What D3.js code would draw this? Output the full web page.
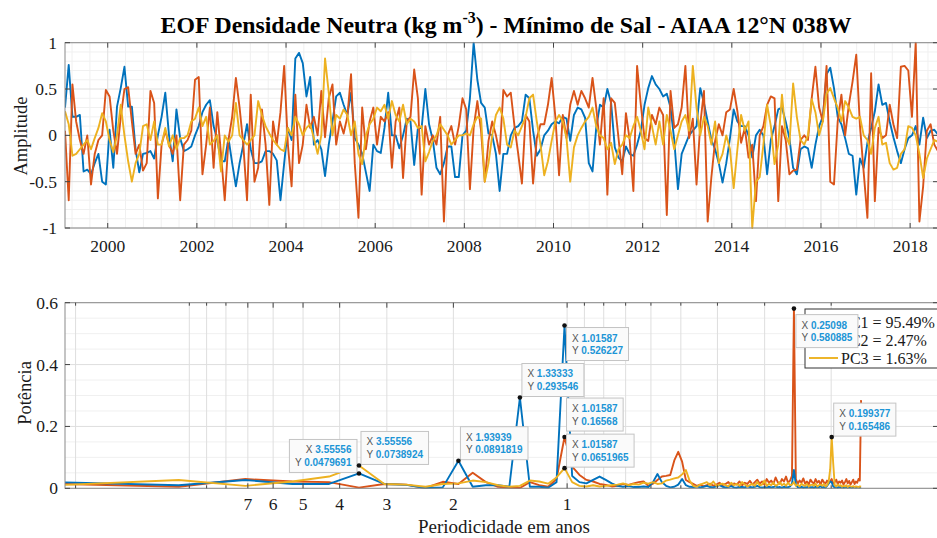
<!DOCTYPE html>
<html><head><meta charset="utf-8">
<script src="https://cdn.jsdelivr.net/npm/d3@7"></script>
<style>body{margin:0;background:#fff}svg{display:block}</style>
</head><body><svg id="c" width="937" height="538"></svg>
<script>
// ---------------- DATA ----------------
const startYear = 1999; // monthly series starting January 1999
const pc1 = [
 0.30, 0.76, 0.20, 0.20, 0.22,-0.39,-0.37,-0.42,-0.30,-0.20,-0.50,-0.53,
 0.06,-0.35, 0.31, 0.51, 0.74, 0.31, 0.31,-0.15,-0.40,-0.20,-0.19,-0.17,
-0.25, 0.00, 0.20, 0.46, 0.00,-0.28, 0.28,-0.03,-0.17,-0.15,-0.12, 0.00,
 0.10, 0.25, 0.33, 0.38, 0.10,-0.05,-0.28,-0.28,-0.03,-0.30,-0.55,-0.30,
-0.10, 0.12,-0.15,-0.30,-0.30,-0.28,-0.17,-0.17,-0.20,-0.27,-0.70,-0.30,
 0.08,-0.05, 0.83, 0.89, 0.78, 0.42, 0.63,-0.10,-0.05,-0.15,-0.44,-0.10,
 0.15, 0.42, 0.46, 0.33, 0.22, 0.46,-0.03,-0.10,-0.20,-0.40,-0.60,-0.10,
-0.17,-0.19, 0.08, 0.46, 0.00, 0.00,-0.14, 0.00, 0.18, 0.15,-0.32, 0.08,
 0.08, 0.50, 0.12,-0.05,-0.35,-0.42,-0.30,-0.12,-0.12,-0.45,-0.45, 0.00,
 0.05, 0.40, 1.00, 0.60, 0.35, 0.30, 0.02, 0.00,-0.20,-0.60,-0.20,-0.20,
 0.00, 0.08, 0.10, 0.15, 0.44, 0.40, 0.05,-0.22,-0.15, 0.00, 0.05, 0.12,
 0.15, 0.13, 0.20, 0.18,-0.06, 0.22, 0.30, 0.28, 0.19,-0.30,-0.39, 0.08,
 0.33, 0.30, 0.50, 0.35,-0.13,-0.24,-0.28,-0.12,-0.20,-0.22,-0.10, 0.05,
 0.33, 0.51, 0.64, 0.55, 0.50, 0.42, 0.45, 0.30,-0.05,-0.58,-0.20,-0.10,
 0.00, 0.05, 0.10, 0.51, 0.35, 0.15,-0.05,-0.15,-0.30,-0.51,-0.30,-0.03,
 0.28, 0.15, 0.10, 0.10, 0.00,-0.24, 0.00, 0.06, 0.00,-0.42,-0.05, 0.10,
 0.28, 0.30, 0.15,-0.03,-0.35,-0.42,-0.15,-0.12,-0.14,-0.35,-0.10, 0.10,
 0.20, 0.66, 0.73, 0.51, 0.20, 0.12,-0.03,-0.20,-0.22,-0.64,-0.25,-0.35,
-0.08, 0.08, 0.26, 0.55, 0.33, 0.35, 0.15,-0.02,-0.17,-0.30,-0.15,-0.03,
 0.00, 0.10,-0.10, 0.19,-0.03, 0.05, 0.06, 0.01
];
const pc2 = [
 0.05,-0.70, 0.55, 0.15,-0.05,-0.20, 0.00,-0.53,-0.20,-0.05, 0.00, 0.49,
 0.42, 0.05,-0.20, 0.20, 0.50, 0.52, 0.15,-0.20,-0.10,-0.38,-0.30, 0.48,
 0.35,-0.68,-0.10, 0.05,-0.10,-0.20, 0.00,-0.70,-0.10,-0.05, 0.05, 0.60,
 0.63,-0.42,-0.10, 0.30,-0.35, 0.25,-0.20,-0.70,-0.05, 0.20, 0.62, 0.30,
-0.10,-0.70, 0.44,-0.50,-0.35, 0.28,-0.10,-0.75, 0.15,-0.10, 0.25, 0.75,
-0.10,-0.55, 0.44,-0.30,-0.10, 0.33, 0.08, 0.20, 0.00, 0.48,-0.02, 0.40,
 0.55,-0.10, 0.15, 0.02, 0.20, 0.66,-0.30,-0.89, 0.30,-0.15, 0.15, 0.30,
-0.10, 0.20, 0.15, 0.25,-0.35, 0.15, 0.30,-0.46, 0.15, 0.20, 0.71, 0.40,
-0.64, 0.10,-0.10, 0.00,-0.10, 0.20,-0.93, 0.00, 0.10,-0.10, 0.10, 0.40,
 0.28,-0.58, 0.08, 0.37, 0.05,-0.50,-0.06, 0.15, 0.00,-0.20, 0.49, 0.42,
 0.46, 0.10,-0.20,-0.52, 0.22, 0.15,-0.52,-0.03, 0.12, 0.12, 0.33, 0.62,
 0.20,-0.43, 0.22,-0.03, 0.33, 0.48, 0.33, 0.48, 0.40, 0.30, 0.62, 0.30,
-0.10, 0.40,-0.64, 0.40, 0.35,-0.03,-0.42, 0.24,-0.05,-0.60, 0.75, 0.33,
-0.03,-0.06, 0.22, 0.12, 0.30, 0.22,-0.86, 0.48, 0.08, 0.12, 0.30, 0.75,
-0.03, 0.18,-0.53, 0.12, 0.48,-0.93,-0.45,-0.06, 0.12, 0.00, 0.25, 0.28,
 0.50, 0.26,-0.08, 0.08,-0.24,-0.10,-0.71, 0.00, 0.10, 0.33, 0.42, 0.40,
-0.71, 0.10,-0.05,-0.42,-0.38,-0.37,-0.05, 0.00,-0.05, 0.40, 0.74, 0.30,
 0.15, 0.75,-0.50,-0.53, 0.15, 0.44, 0.00, 0.33, 0.58, 0.87, 0.10,-0.40,
-0.89, 0.67,-0.71, 0.08,-0.03, 0.00, 0.33, 0.12,-0.03, 0.74, 0.75, 0.70,
 0.20, 1.00,-0.93,-0.55, 0.05, 0.12,-0.10,-0.17
];
const pc3 = [
 0.26, 0.12,-0.22,-0.20,-0.15,-0.10,-0.05,-0.15,-0.03, 0.08, 0.24, 0.15,
-0.05,-0.18, 0.00, 0.33, 0.00,-0.28,-0.50,-0.30,-0.20, 0.10, 0.12,-0.05,
 0.15,-0.10,-0.10, 0.08,-0.12, 0.00,-0.15,-0.03,-0.03, 0.00, 0.15, 0.18,
 0.30, 0.10, 0.20,-0.10,-0.06, 0.00,-0.39, 0.00,-0.07, 0.00, 0.35, 0.00,
-0.05,-0.10,-0.05, 0.00, 0.37, 0.22, 0.10, 0.02,-0.05,-0.10,-0.15,-0.17,
 0.08, 0.00, 0.20, 0.12, 0.00, 0.08, 0.12,-0.03,-0.20, 0.00, 0.83, 0.46,
 0.00, 0.22, 0.18, 0.28, 0.22, 0.00, 0.15,-0.20,-0.31, 0.00, 0.12, 0.18,
 0.30, 0.26, 0.33, 0.18, 0.37, 0.22, 0.15, 0.33, 0.12, 0.18, 0.15, 0.08,
 0.10,-0.28,-0.18,-0.06, 0.00, 0.12, 0.06, 0.00,-0.10,-0.05, 0.00, 0.00,
 0.02, 0.00, 0.12, 0.20, 0.18,-0.50,-0.30, 0.00, 0.22, 0.30, 0.18,-0.10,
-0.13, 0.05, 0.00, 0.10, 0.20, 0.40, 0.44, 0.15,-0.10,-0.43,-0.28,-0.06,
 0.15, 0.22, 0.15,-0.03,-0.50,-0.13, 0.00, 0.08, 0.15, 0.20, 0.30, 0.10,
 0.00,-0.03,-0.15,-0.08,-0.31,-0.15,-0.10, 0.00,-0.03, 0.10, 0.20, 0.05,
-0.15, 0.30, 0.10,-0.10, 0.15,-0.10, 0.22, 0.05,-0.15, 0.00, 0.15, 0.22,
 0.05, 0.75, 0.30, 0.00, 0.20, 0.10,-0.10, 0.15,-0.30,-0.20, 0.00,-0.15,
-0.57,-0.15, 0.22, 0.05, 0.15,-1.00,-0.50,-0.45,-0.10, 0.33, 0.10,-0.31,
-0.10, 0.44, 0.00,-0.10, 0.56, 0.20,-0.05,-0.10, 0.00, 0.39, 0.25, 0.00,
 0.15, 0.45, 0.51, 0.40, 0.30, 0.15, 0.37, 0.30, 0.20, 0.18, 0.20, 0.00,
-0.05,-0.20, 0.08, 0.20,-0.10,-0.08,-0.30,-0.37,-0.35,-0.20,-0.15, 0.10,
 0.08, 0.00,-0.20,-0.46,-0.25,-0.15,-0.05,-0.07
];
const yearTicks = [2000,2002,2004,2006,2008,2010,2012,2014,2016,2018];
const ampTicks = [-1,-0.5,0,0.5,1];

const fftLength = 256; // spectral estimates k = 1..128, period = fftLength/(12k) years
const spec1 = [
 0.019,0.010,0.027,0.014,0.014,0.0479691,0.014,0.011,0.001,0.003,
 0.0891819,0.005,0.010,0.010,0.005,0.293546,0.005,0.005,0.002,0.020,
 0.526227,0.040,0.020,0.016,0.027,0.038,0.027,0.016,0.008,0.005,
 0.007,0.004,0.004,0.006,0.004,0.020,0.046,0.020,0.008,0.003,
 0.005,0.012,0.030,0.010,0.005,0.004,0.006,0.003,0.005,0.008,
 0.004,0.003,0.006,0.010,0.005,0.003,0.004,0.007,0.003,0.002,
 0.005,0.004,0.003,0.006,0.004,0.003,0.005,0.008,0.004,0.002,
 0.004,0.003,0.005,0.003,0.004,0.006,0.003,0.004,0.002,0.005,
 0.004,0.003,0.006,0.015,0.059,0.012,0.004,0.003,0.005,0.002,
 0.004,0.003,0.006,0.003,0.004,0.002,0.005,0.003,0.004,0.006,
 0.003,0.004,0.002,0.008,0.015,0.022,0.020,0.006,0.003,0.004,
 0.002,0.005,0.003,0.004,0.002,0.003,0.005,0.002,0.004,0.003,
 0.002,0.004,0.003,0.002,0.004,0.003,0.002,0.003
];
const spec2 = [
 0.014,0.005,0.030,0.022,0.020,0.002,0.014,0.012,0.001,0.021,
 0.014,0.050,0.020,0.005,0.002,0.001,0.020,0.010,0.005,0.030,
 0.16568,0.070,0.043,0.027,0.022,0.014,0.011,0.006,0.008,0.014,
 0.011,0.016,0.020,0.022,0.008,0.015,0.027,0.038,0.040,0.043,
 0.090,0.118,0.086,0.027,0.020,0.014,0.008,0.012,0.006,0.010,
 0.015,0.008,0.012,0.018,0.010,0.014,0.020,0.008,0.016,0.012,
 0.022,0.010,0.018,0.014,0.024,0.012,0.020,0.028,0.015,0.022,
 0.012,0.030,0.018,0.025,0.014,0.035,0.020,0.015,0.030,0.022,
 0.038,0.018,0.025,0.040,0.580885,0.030,0.015,0.025,0.018,0.032,
 0.015,0.022,0.012,0.028,0.020,0.015,0.030,0.018,0.024,0.012,
 0.028,0.020,0.015,0.025,0.018,0.022,0.030,0.015,0.020,0.028,
 0.014,0.022,0.018,0.025,0.012,0.020,0.030,0.016,0.024,0.012,
 0.020,0.028,0.014,0.022,0.018,0.030,0.025,0.285
];
const spec3 = [
 0.011,0.027,0.008,0.022,0.038,0.0738924,0.014,0.012,0.005,0.014,
 0.016,0.025,0.020,0.010,0.005,0.008,0.025,0.022,0.015,0.035,
 0.0651965,0.020,0.008,0.006,0.010,0.006,0.008,0.010,0.012,0.016,
 0.010,0.014,0.012,0.018,0.015,0.020,0.014,0.016,0.025,0.028,
 0.032,0.035,0.045,0.059,0.025,0.008,0.005,0.012,0.016,0.020,
 0.010,0.022,0.008,0.012,0.015,0.010,0.006,0.018,0.010,0.014,
 0.008,0.020,0.012,0.006,0.010,0.014,0.008,0.020,0.010,0.012,
 0.025,0.008,0.015,0.010,0.018,0.008,0.012,0.020,0.010,0.015,
 0.008,0.018,0.010,0.012,0.020,0.008,0.012,0.006,0.015,0.010,
 0.008,0.014,0.006,0.010,0.012,0.008,0.015,0.006,0.010,0.012,
 0.008,0.014,0.006,0.010,0.020,0.060,0.165486,0.080,0.010,0.006,
 0.012,0.008,0.010,0.005,0.008,0.006,0.010,0.004,0.008,0.006,
 0.005,0.007,0.004,0.006,0.005,0.004,0.006,0.005
];
const periodTicks = [7,6,5,4,3,2,1];
const periodMinorTicks = [20,10,9,8,0.9,0.8,0.7,0.6,0.5,0.4,0.3,0.2];
const powerTicks = [0,0.2,0.4,0.6];
const legendLabels = ["PC1 = 95.49%","PC2 = 2.47%","PC3 = 1.63%"];
// data tips: which series and which spectral index k
const tipPoints = [
 {s:0,k:6},{s:2,k:6},{s:0,k:11},{s:0,k:16},{s:0,k:21},{s:1,k:21},{s:2,k:21},{s:1,k:85},{s:2,k:107}
];
// ---------------- STYLE / LAYOUT ----------------
const colors = ["#0072BD","#D95319","#EDB120"];
const tipPlacement = ["ul","ur","ur","ur","lr","ur","ur","lr","ur"];
const tipDy = [0,0,0,0,0,-5,0,4,0];
const serif = "'Liberation Serif','Times New Roman',serif";
const sans = "'Liberation Sans',Arial,sans-serif";
const svg = d3.select("#c");
const L = 65, R = 938;
const top1 = 42.7, bot1 = 228;
const top2 = 302.7, bot2 = 488.3;

const times = pc1.map((_, i) => startYear + (i + 0.5) / 12);
const series = [pc1, pc2, pc3];
const specs = [spec1, spec2, spec3];
const periods = spec1.map((_, j) => fftLength / (12 * (j + 1)));

// ---- scales
const x1 = d3.scaleLinear().domain([times[0], times[times.length - 1]]).range([L, R]);
const y1 = d3.scaleLinear().domain([-1, 1]).range([bot1, top1]);
const x2 = d3.scaleLog().domain([periods[0], 0.1043]).range([L, R]);
const y2 = d3.scaleLinear().domain([0, 0.6]).range([bot2, top2]);

const gridMajor = "#dedede", gridMinor = "#f0f0f0", axisCol = "#8a8a8a", txtCol = "#1a1a1a";

// ---------- TOP AXES ----------
const g1 = svg.append("g");
const minorYears = d3.range(1999.2, 2018.7, 0.4).filter(v => Math.abs(v / 2 - Math.round(v / 2)) > 0.01);
g1.selectAll(".mgx").data(minorYears.filter(v => x1(v) > L && x1(v) < R)).enter().append("line")
  .attr("x1", d => x1(d)).attr("x2", d => x1(d)).attr("y1", top1).attr("y2", bot1)
  .attr("stroke", gridMinor).attr("stroke-width", 1);
const minorAmp = d3.range(-0.9, 1.0, 0.1).filter(v => Math.abs(v * 2 - Math.round(v * 2)) > 0.01);
g1.selectAll(".mgy").data(minorAmp).enter().append("line")
  .attr("x1", L).attr("x2", R).attr("y1", d => y1(d)).attr("y2", d => y1(d))
  .attr("stroke", gridMinor).attr("stroke-width", 1);
g1.selectAll(".gx").data(yearTicks).enter().append("line")
  .attr("x1", d => x1(d)).attr("x2", d => x1(d)).attr("y1", top1).attr("y2", bot1)
  .attr("stroke", gridMajor).attr("stroke-width", 1);
g1.selectAll(".gy").data(ampTicks).enter().append("line")
  .attr("x1", L).attr("x2", R).attr("y1", d => y1(d)).attr("y2", d => y1(d))
  .attr("stroke", gridMajor).attr("stroke-width", 1);

svg.append("clipPath").attr("id", "clip1").append("rect")
  .attr("x", L).attr("y", top1 - 1).attr("width", R - L).attr("height", bot1 - top1 + 2);
const line1 = d3.line().x((d, i) => x1(times[i])).y(d => y1(d));
series.forEach((s, si) => {
  g1.append("path").datum(s).attr("d", line1).attr("fill", "none")
    .attr("stroke", colors[si]).attr("stroke-width", 1.9).attr("stroke-linejoin", "round")
    .attr("clip-path", "url(#clip1)");
});
g1.append("rect").attr("x", L).attr("y", top1).attr("width", R - L).attr("height", bot1 - top1)
  .attr("fill", "none").attr("stroke", axisCol).attr("stroke-width", 1);
const tl = 5;
yearTicks.forEach(v => {
  const x = x1(v);
  g1.append("line").attr("x1", x).attr("x2", x).attr("y1", bot1).attr("y2", bot1 - tl).attr("stroke", "#444");
  g1.append("line").attr("x1", x).attr("x2", x).attr("y1", top1).attr("y2", top1 + tl).attr("stroke", "#444");
  g1.append("text").attr("x", x).attr("y", 252).attr("text-anchor", "middle")
    .attr("font-family", serif).attr("font-size", 17.5).attr("fill", txtCol).text(v);
});
ampTicks.forEach(v => {
  const y = y1(v);
  g1.append("line").attr("x1", L).attr("x2", L + tl).attr("y1", y).attr("y2", y).attr("stroke", "#444");
  g1.append("line").attr("x1", R).attr("x2", R - tl).attr("y1", y).attr("y2", y).attr("stroke", "#444");
  g1.append("text").attr("x", 57).attr("y", y + 6).attr("text-anchor", "end")
    .attr("font-family", serif).attr("font-size", 17.5).attr("fill", txtCol).text(String(v));
});
g1.append("text").attr("transform", "translate(27,136) rotate(-90)").attr("text-anchor", "middle")
  .attr("font-family", serif).attr("font-size", 18.5).attr("fill", txtCol).text("Amplitude");

// title
const title = svg.append("text").attr("x", 506).attr("y", 33).attr("text-anchor", "middle")
  .attr("font-family", serif).attr("font-size", 23.8).attr("font-weight", "bold").attr("fill", "#000");
title.append("tspan").text("EOF Densidade Neutra (kg m");
title.append("tspan").attr("dy", -10).attr("font-size", 16).text("-3");
title.append("tspan").attr("dy", 10).text(") - Mínimo de Sal - AIAA 12°N 038W");

// ---------- BOTTOM AXES ----------
const g2 = svg.append("g");
const minorPow = d3.range(0.05, 0.6, 0.05).filter(v => Math.abs(v * 5 - Math.round(v * 5)) > 0.01);
g2.selectAll(".mpy").data(minorPow).enter().append("line")
  .attr("x1", L).attr("x2", R).attr("y1", d => y2(d)).attr("y2", d => y2(d))
  .attr("stroke", gridMinor).attr("stroke-width", 1);
g2.selectAll(".gpx").data(periodTicks.concat(periodMinorTicks)).enter().append("line")
  .attr("x1", d => x2(d)).attr("x2", d => x2(d)).attr("y1", top2).attr("y2", bot2)
  .attr("stroke", gridMajor).attr("stroke-width", 1);
g2.selectAll(".gpy").data(powerTicks).enter().append("line")
  .attr("x1", L).attr("x2", R).attr("y1", d => y2(d)).attr("y2", d => y2(d))
  .attr("stroke", gridMajor).attr("stroke-width", 1);

svg.append("clipPath").attr("id", "clip2").append("rect")
  .attr("x", L).attr("y", top2 - 1).attr("width", R - L).attr("height", bot2 - top2 + 2);
const line2 = d3.line().x((d, j) => x2(periods[j])).y(d => y2(d));
[1, 0, 2].forEach(si => {
  g2.append("path").datum(specs[si]).attr("d", line2).attr("fill", "none")
    .attr("stroke", colors[si]).attr("stroke-width", 1.9).attr("stroke-linejoin", "round")
    .attr("clip-path", "url(#clip2)");
});
g2.append("rect").attr("x", L).attr("y", top2).attr("width", R - L).attr("height", bot2 - top2)
  .attr("fill", "none").attr("stroke", axisCol).attr("stroke-width", 1);
periodTicks.concat(periodMinorTicks).forEach(v => {
  const x = x2(v);
  const len = periodTicks.includes(v) ? tl : 3;
  g2.append("line").attr("x1", x).attr("x2", x).attr("y1", bot2).attr("y2", bot2 - len).attr("stroke", "#444");
  g2.append("line").attr("x1", x).attr("x2", x).attr("y1", top2).attr("y2", top2 + len).attr("stroke", "#444");
});
periodTicks.forEach(v => {
  g2.append("text").attr("x", x2(v)).attr("y", 510).attr("text-anchor", "middle")
    .attr("font-family", serif).attr("font-size", 17.5).attr("fill", txtCol).text(v);
});
powerTicks.forEach(v => {
  const y = y2(v);
  g2.append("line").attr("x1", L).attr("x2", L + tl).attr("y1", y).attr("y2", y).attr("stroke", "#444");
  g2.append("line").attr("x1", R).attr("x2", R - tl).attr("y1", y).attr("y2", y).attr("stroke", "#444");
  g2.append("text").attr("x", 58).attr("y", y + 6).attr("text-anchor", "end")
    .attr("font-family", serif).attr("font-size", 17.5).attr("fill", txtCol).text(String(v));
});
g2.append("text").attr("transform", "translate(31,393) rotate(-90)").attr("text-anchor", "middle")
  .attr("font-family", serif).attr("font-size", 18.5).attr("fill", txtCol).text("Potência");
g2.append("text").attr("x", 504).attr("y", 533).attr("text-anchor", "middle")
  .attr("font-family", serif).attr("font-size", 19).attr("fill", txtCol).text("Periodicidade em anos");

// legend
const lg = svg.append("g");
lg.append("rect").attr("x", 805).attr("y", 309).attr("width", 140).attr("height", 59)
  .attr("fill", "#fff").attr("stroke", "#333").attr("stroke-width", 1);
legendLabels.forEach((lab, i) => {
  const y = 322 + i * 18;
  lg.append("line").attr("x1", 809).attr("x2", 838).attr("y1", y).attr("y2", y)
    .attr("stroke", colors[i]).attr("stroke-width", 1.9);
  lg.append("text").attr("x", 841).attr("y", y + 5.5).attr("font-family", serif)
    .attr("font-size", 16).attr("fill", txtCol).text(lab);
});

// data tips
const fmt = d3.format(".6~g");
const tg = svg.append("g");
tipPoints.forEach((t, n) => {
  const px = x2(periods[t.k - 1]), py = y2(specs[t.s][t.k - 1]);
  const g = tg.append("g");
  const rect = g.append("rect").attr("fill", "#fafafa").attr("stroke", "#c4c4c4").attr("stroke-width", 1);
  const lines = [["X ", fmt(periods[t.k - 1])], ["Y ", fmt(specs[t.s][t.k - 1])]];
  const texts = lines.map(([a, b]) => {
    const tx = g.append("text").attr("font-family", sans).attr("font-size", 10);
    tx.append("tspan").attr("fill", "#555").text(a);
    tx.append("tspan").attr("fill", "#1c95d6").attr("font-weight", "bold").text(b);
    return tx;
  });
  const w = d3.max(texts, tx => tx.node().getComputedTextLength()) + 11;
  const h = 33;
  const pl = tipPlacement[n];
  let bx, by;
  if (pl === "ul") { bx = px - 2 - w; by = py - 1 - h; }
  else if (pl === "ur") { bx = px + 2; by = py - 1 - h; }
  else { bx = px + 2; by = py + 2; }
  by += tipDy[n];
  rect.attr("x", bx).attr("y", by).attr("width", w).attr("height", h);
  texts.forEach((tx, i) => {
    if (pl === "ul") tx.attr("x", bx + w - 5.5).attr("text-anchor", "end");
    else tx.attr("x", bx + 5.5);
    tx.attr("y", by + 14 + i * 12.5);
  });
  g.append("circle").attr("cx", px).attr("cy", py).attr("r", 2.3).attr("fill", "#111");
});
</script></body></html>
